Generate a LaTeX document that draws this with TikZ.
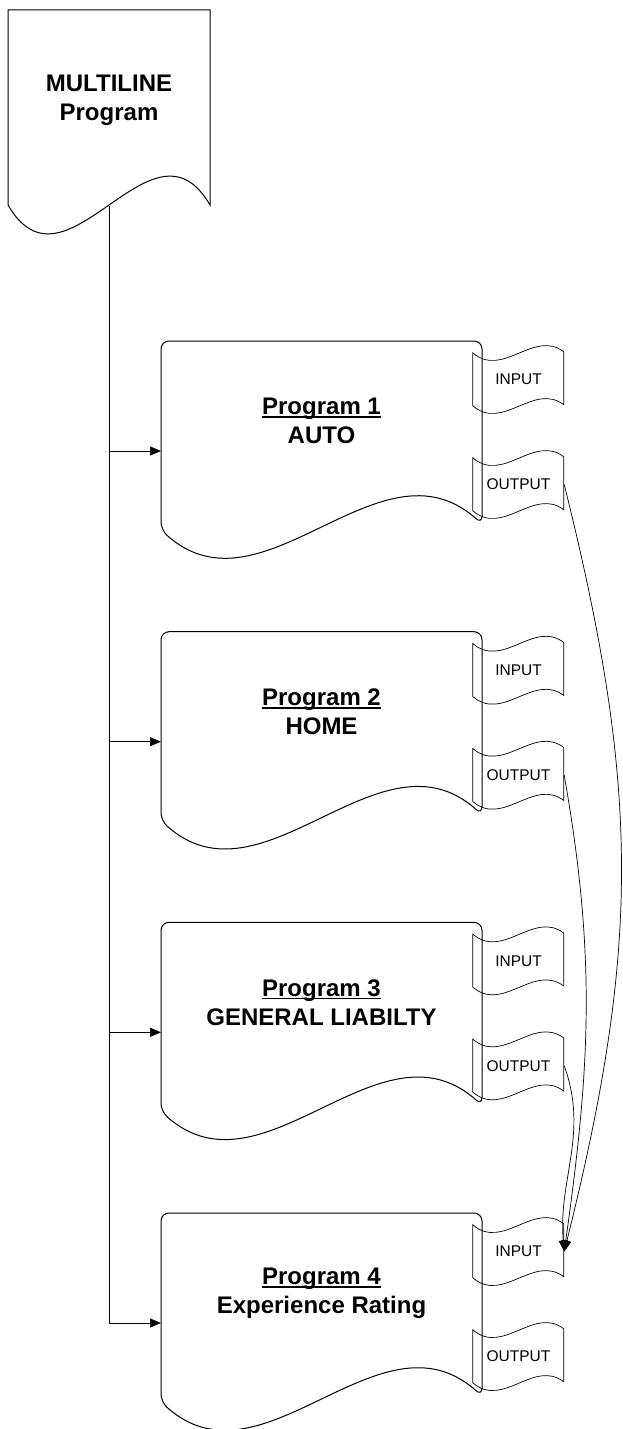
\documentclass[tikz,border=0pt]{standalone}
\usepackage{fontspec}
\setmainfont{Liberation Sans}
\usetikzlibrary{arrows.meta}

\newcommand\progline[1]{\setbox0\hbox{#1}\rlap{\rule[-3.3pt]{\wd0}{1.6pt}}\box0}

\begin{document}
\begin{tikzpicture}[x=1pt, y=1pt,
  docline/.style={line width=1pt},
  tabline/.style={line width=0.7pt},
  flow/.style={-{Triangle[length=11pt,width=9pt]}, line width=0.7pt},
  title/.style={align=center, font=\fontsize{24}{29}\selectfont\bfseries},
  tabtext/.style={minimum width=91pt, minimum height=53pt, inner sep=0pt,
    font=\fontsize{15.5}{18}\selectfont}]
  \useasboundingbox (0,0) rectangle (623,-1429);

  % master program
  \draw[docline] (8,-205) -- (8,-10) -- (210,-10) -- (210,-205)
    .. controls (152,-105) and (66,-305) .. (8,-205);
  \node[title] (master) at (109,-100) {MULTILINE\\Program};
  \coordinate (trunk) at (109,-206);

  % the four programs
  \foreach \i/\T/\name in {1/341/AUTO, 2/631.7/HOME, 3/922.3/GENERAL LIABILTY,
                           4/1213/Experience Rating} {
    \begin{scope}[shift={(161,-\T)}]
      \draw[docline, rounded corners=8pt] (0,-100) -- (0,0) -- (321,0) -- (321,-183)
        .. controls (219,-92) and (102,-280) .. (0,-189) -- cycle;
      \node[title] (prog\i) at (160.5,-80) {\progline{Program \i}\\\name};
      \coordinate (entry\i) at (0,-110);
      \node[tabtext] (inp\i) at (357.5,-38.5) {INPUT};
      \node[tabtext] (outp\i) at (357.5,-143.5) {OUTPUT};
      \foreach \t in {inp\i, outp\i}
        \draw[tabline, shift={(\t.north west)}] (0,0) .. controls (30,-26) and (61,24) .. (91,1)
          -- (91,-52) .. controls (61,-29) and (30,-79) .. (0,-53) -- cycle;
    \end{scope}
    \draw[flow] (trunk |- entry\i) -- (entry\i);
  }
  \draw[line width=0.7pt] (trunk) -- (trunk |- entry4);

  % outputs feeding experience rating
  \draw[flow] (outp1.east) to[out=-76, in=76, looseness=1.05] (inp4.east);
  \draw[flow] (outp2.east) to[out=-80, in=82] (inp4.east);
  \draw[flow] (outp3.east) to[out=-70, in=95] (inp4.east);
\end{tikzpicture}
\end{document}
